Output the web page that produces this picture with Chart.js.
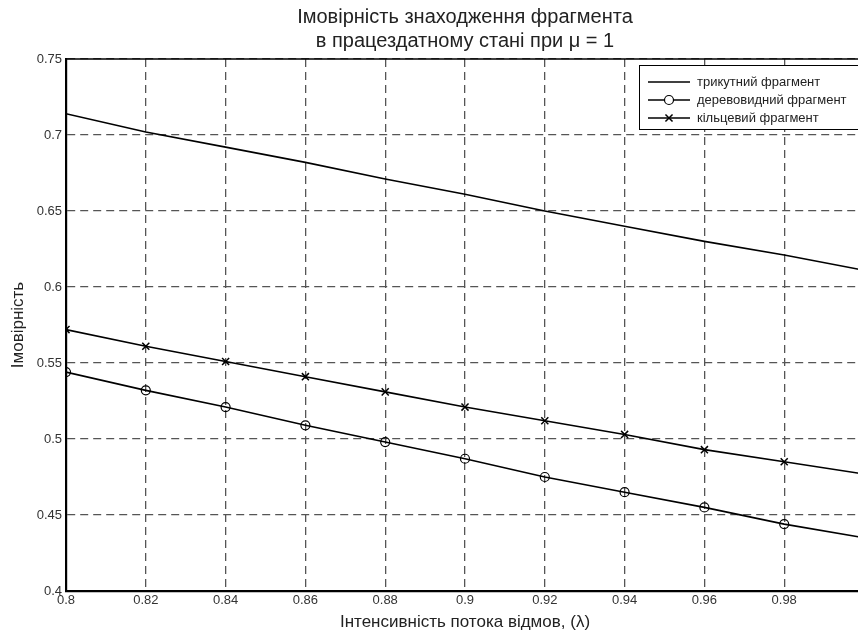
<!DOCTYPE html>
<html>
<head>
<meta charset="utf-8">
<script src="https://cdn.jsdelivr.net/npm/chart.js@4/dist/chart.umd.min.js"></script>
<style>
    html, body { margin: 0; padding: 0; background: #fff; overflow: hidden; }
    #wrap { width: 872px; height: 634px; }
</style>
</head>
<body>
<div id="wrap"><canvas id="graph-container"></canvas></div>
<script>
'use strict';
// lambda values (x axis)
var lambdas = [0.8, 0.82, 0.84, 0.86, 0.88, 0.9, 0.92, 0.94, 0.96, 0.98, 1.0];
// probabilities
var triangleVals = [0.714, 0.702, 0.692, 0.682, 0.671, 0.661, 0.650, 0.640, 0.630, 0.621, 0.611];
var treeVals = [0.544, 0.532, 0.521, 0.509, 0.498, 0.487, 0.475, 0.465, 0.455, 0.444, 0.435];
var ringVals = [0.572, 0.561, 0.551, 0.541, 0.531, 0.521, 0.512, 0.503, 0.493, 0.485, 0.477];
var seriesNames = ['трикутний фрагмент', 'деревовидний фрагмент', 'кільцевий фрагмент'];
var titleLines = ['Імовірність знаходження фрагмента', 'в працездатному стані при \u03bc = 1'];
var xLabel = 'Інтенсивність потока відмов, (\u03bb)';
var yLabel = 'Імовірність';

var FONT = "'Liberation Sans', Arial, sans-serif";

function toPoints(vals) {
    var pts = [];
    for (var i = 0; i < vals.length; i++) {
        pts.push({ x: lambdas[i], y: vals[i] });
    }
    return pts;
}

// top frame line + legend box inside the plot (matlab style)
var framePlugin = {
    id: 'frameAndLegend',
    afterDraw: function (chart) {
        var ctx = chart.ctx;
        var area = chart.chartArea;
        ctx.save();
        ctx.setLineDash([]);
        ctx.strokeStyle = '#000';
        ctx.lineWidth = 1.5;
        ctx.beginPath();
        ctx.moveTo(area.left, area.top);
        ctx.lineTo(area.right, area.top);
        ctx.stroke();

        var bx = area.right - 225, by = area.top + 6, bw = 223, bh = 64;
        ctx.fillStyle = '#fff';
        ctx.fillRect(bx, by, bw, bh);
        ctx.lineWidth = 1;
        ctx.strokeRect(bx + 0.5, by + 0.5, bw, bh);

        ctx.font = '13px ' + FONT;
        ctx.textBaseline = 'middle';
        var dsets = chart.data.datasets;
        for (var i = 0; i < dsets.length; i++) {
            var ds = dsets[i];
            var ry = by + 17 + i * 18;
            ctx.strokeStyle = '#000';
            ctx.lineWidth = 1.6;
            ctx.beginPath();
            ctx.moveTo(bx + 9, ry);
            ctx.lineTo(bx + 51, ry);
            ctx.stroke();
            if (ds.pointRadius > 0) {
                ctx.fillStyle = '#fff';
                ctx.lineWidth = ds.pointBorderWidth;
                Chart.helpers.drawPoint(ctx, {
                    pointStyle: ds.pointStyle,
                    radius: ds.pointRadius,
                    borderWidth: ds.pointBorderWidth
                }, bx + 30, ry);
            }
            ctx.fillStyle = '#222';
            ctx.fillText(ds.label, bx + 58, ry);
        }
        ctx.restore();
    }
};

var ctx = document.getElementById('graph-container');
var myChart = new Chart(ctx, {
    type: 'line',
    data: {
        datasets: [{
            label: seriesNames[0],
            data: toPoints(triangleVals),
            borderColor: '#000',
            borderWidth: 1.6,
            pointRadius: 0,
            fill: false
        }, {
            label: seriesNames[1],
            data: toPoints(treeVals),
            borderColor: '#000',
            borderWidth: 1.6,
            pointStyle: 'circle',
            pointRadius: 4.5,
            pointBorderWidth: 1.2,
            pointBorderColor: '#000',
            pointBackgroundColor: 'rgba(0,0,0,0)',
            fill: false
        }, {
            label: seriesNames[2],
            data: toPoints(ringVals),
            borderColor: '#000',
            borderWidth: 1.6,
            pointStyle: 'crossRot',
            pointRadius: 5,
            pointBorderWidth: 1.5,
            pointBorderColor: '#000',
            fill: false
        }]
    },
    options: {
        responsive: true,
        maintainAspectRatio: false,
        animation: false,
        layout: { padding: { left: 0, right: 8, top: 0, bottom: 0 } },
        plugins: {
            legend: { display: false },
            tooltip: { enabled: false },
            title: {
                display: true,
                fullSize: false, // center over the plot, not the canvas
                text: titleLines,
                color: '#222',
                font: { family: FONT, size: 20, weight: 'normal', lineHeight: 1.2 },
                padding: { top: 5, bottom: 6 }
            }
        },
        scales: {
            x: {
                type: 'linear',
                min: 0.8,
                max: 1.0,
                // in v4 border.dash is what dashes the grid lines
                border: { color: '#000', width: 2.2, dash: [8, 5] },
                grid: { color: '#555', lineWidth: 1.3, drawTicks: false },
                ticks: {
                    stepSize: 0.02,
                    padding: 2,
                    color: '#333',
                    font: { family: FONT, size: 13 },
                    maxRotation: 0,
                    callback: function (v) { return +v.toFixed(2); }
                },
                title: {
                    display: true,
                    text: xLabel,
                    color: '#222',
                    font: { family: FONT, size: 17 },
                    padding: { top: 0, bottom: 1 }
                },
                afterFit: function (scale) { scale.height = 43; }
            },
            y: {
                min: 0.4,
                max: 0.75,
                border: { color: '#000', width: 2.2, dash: [8, 5] },
                grid: { color: '#555', lineWidth: 1.3, drawTicks: false },
                ticks: {
                    stepSize: 0.05,
                    padding: 4,
                    color: '#333',
                    font: { family: FONT, size: 13 },
                    callback: function (v) { return +v.toFixed(2); }
                },
                title: {
                    display: true,
                    text: yLabel,
                    color: '#222',
                    font: { family: FONT, size: 17 },
                    padding: { top: 8, bottom: 0 }
                },
                afterFit: function (scale) { scale.width = 66; }
            }
        }
    },
    plugins: [framePlugin]
});
</script>
</body>
</html>
